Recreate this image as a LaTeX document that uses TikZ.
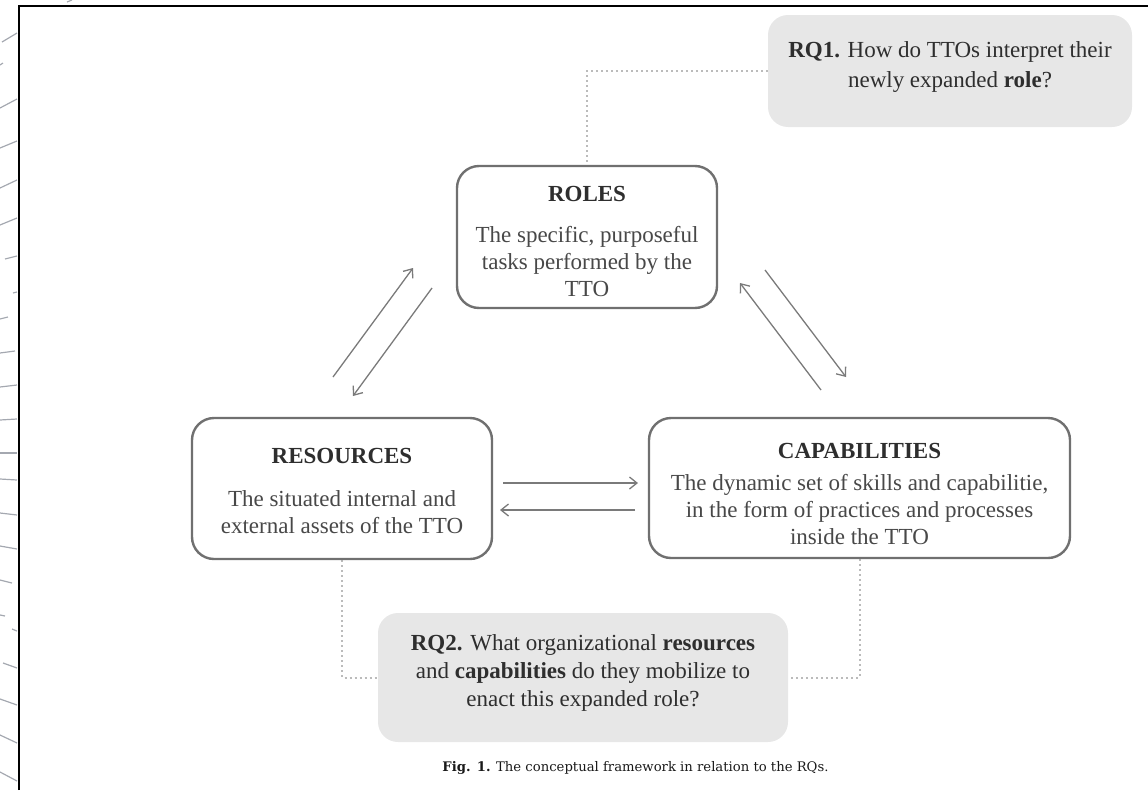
\documentclass[tikz,border=0pt]{standalone}
\usepackage{fontspec}
\setmainfont{Liberation Serif}
\newfontfamily\capfont{DejaVu Serif}
\usetikzlibrary{arrows.meta,backgrounds}
\definecolor{boxline}{HTML}{707070}
\definecolor{txt}{HTML}{484848}
\definecolor{rqtxt}{HTML}{2E2E2E}
\definecolor{rqfill}{HTML}{E7E7E7}
\definecolor{dotc}{HTML}{BBBBBB}
\definecolor{arrc}{HTML}{7A7A7A}
\definecolor{stray}{HTML}{A4A8B0}
\begin{document}
\begin{tikzpicture}[x=1pt,y=-1pt,
  conceptbox/.style={draw=boxline, line width=2.4pt, rounded corners=22pt, fill=white, inner sep=0pt},
  boxtext/.style={align=center, text=txt, font=\fontsize{23}{27}\selectfont, inner sep=0pt},
  rqbox/.style={fill=rqfill, rounded corners=20pt, inner sep=0pt},
  rqtext/.style={align=center, text=rqtxt, inner sep=0pt},
  arr/.style={draw=arrc, line width=1.3pt, -{Straight Barb[length=7.5pt,width=12pt]}},
  dotline/.style={draw=dotc, line width=2pt, dash pattern=on 2pt off 3pt},
  strayline/.style={draw=stray, line width=1.2pt}]
\useasboundingbox (0,0) rectangle (1148,790);

% frame
\draw[line width=2.6pt, black] (19,790) -- (19,6) -- (1148,6);

% stray marks at the left edge
\foreach \xa/\ya/\xb/\yb in {67/2/72/0, 2/42/17/33, 0/65/3/63, 0/108/17/99, 0/148/17/141,
  0/188/17/180, 0/225/17/218, 5/259/17/256, 13/293/17/292, 0/319/8/317, 0/353/15/351,
  0/387/17/385, 0/420/17/419, 0/453/17/453, 0/479/17/480, 0/513/17/515, 0/546/17/549,
  0/580/12/583, 0/615/5/616, 12/629/17/631, 3/663/17/668, 0/699/17/705, 0/735/17/743,
  0/772/17/781}
  \draw[strayline] (\xa,\ya) -- (\xb,\yb);

% boxes
\node[rqbox, minimum width=364pt, minimum height=112pt] (rq1) at (950,71) {};
\node[rqtext, font=\fontsize{23}{30}\selectfont] (rq1-text) at (950,67.5)
  {\textbf{RQ1.} How do TTOs interpret their\\ newly expanded \textbf{role}?};

\node[conceptbox, minimum width=260pt, minimum height=142pt] (roles) at (587,237) {};
\node[boxtext] (roles-text) at (587,241)
  {\textcolor{rqtxt}{\textbf{ROLES}}\\[14pt] The specific, purposeful\\ tasks performed by the\\ TTO};

\node[conceptbox, minimum width=300pt, minimum height=141pt] (resources) at (342,488.5) {};
\node[boxtext] (resources-text) at (342,490.5)
  {\textcolor{rqtxt}{\textbf{RESOURCES}}\\[16pt] The situated internal and\\ external assets of the TTO};

\node[conceptbox, minimum width=421pt, minimum height=140pt] (capabilities) at (859.5,488) {};
\node[boxtext] (capabilities-text) at (859.5,494)
  {\textcolor{rqtxt}{\textbf{CAPABILITIES}}\\[5pt] The dynamic set of skills and capabilitie,\\ in the form of practices and processes\\ inside the TTO};

\node[rqbox, minimum width=410pt, minimum height=129pt] (rq2) at (583,677.5) {};
\node[rqtext, font=\fontsize{23}{28}\selectfont] (rq2-text) at (583,672.5)
  {\textbf{RQ2.} What organizational \textbf{resources}\\ and \textbf{capabilities} do they mobilize to\\ enact this expanded role?};

\node[font=\capfont\fontsize{13.2}{16}\selectfont, text=black!90] (caption) at (635.5,768)
  {\textbf{Fig. 1.} The conceptual framework in relation to the RQs.};

% dotted links to the research questions
\begin{scope}[on background layer]
\draw[dotline] (rq1.west) -| (roles.north);
\draw[dotline] (resources.south) |- (rq2.west);
\draw[dotline] (capabilities.south) |- (rq2.east);
\end{scope}

% arrow end points
\coordinate (la1s) at (333,377); \coordinate (la1e) at (413,268);
\coordinate (la2s) at (432,288); \coordinate (la2e) at (353,396);
\coordinate (ra1s) at (821,390); \coordinate (ra1e) at (740,283);
\coordinate (ra2s) at (765,270); \coordinate (ra2e) at (846,377);
\coordinate (h1s) at (503,483); \coordinate (h1e) at (638,483);
\coordinate (h2s) at (635,510); \coordinate (h2e) at (500,510);

\draw[arr] (la1s) -- (la1e);
\draw[arr] (la2s) -- (la2e);
\draw[arr] (ra1s) -- (ra1e);
\draw[arr] (ra2s) -- (ra2e);
\draw[arr] (h1s) -- (h1e);
\draw[arr] (h2s) -- (h2e);
\end{tikzpicture}
\end{document}
